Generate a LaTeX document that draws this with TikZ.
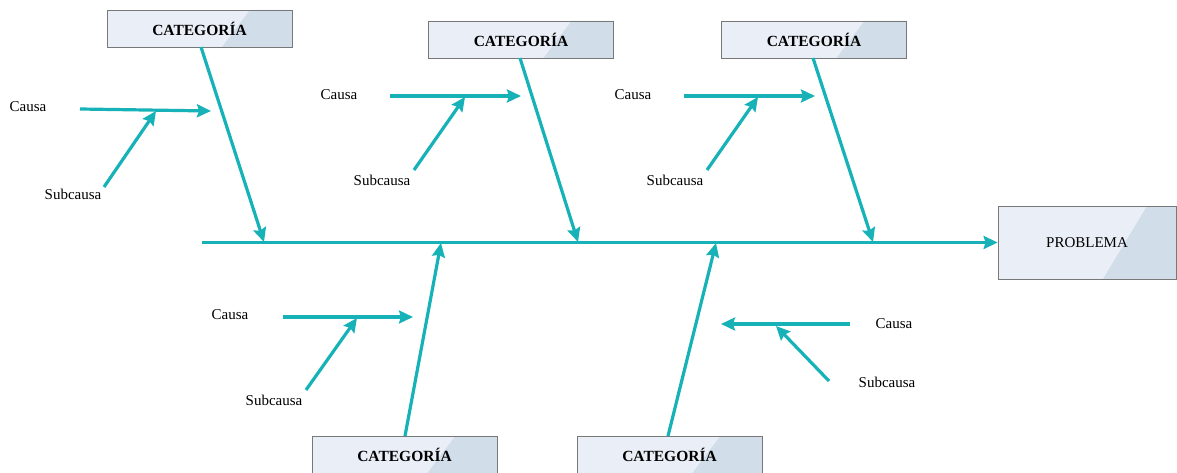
\documentclass[tikz,border=0pt]{standalone}
\usepackage{fontspec}
\setmainfont{Liberation Serif}
\usetikzlibrary{arrows.meta,calc}
\definecolor{bone}{RGB}{22,178,184}
\definecolor{boxlight}{RGB}{234,239,247}
\definecolor{boxdark}{RGB}{209,221,233}
\definecolor{boxline}{RGB}{120,120,120}
\begin{document}
\begin{tikzpicture}[x=1pt,y=-1pt,
  bonearrow/.style={draw=bone,line width=3.2pt,-{Stealth[length=14pt,width=13pt,inset=2pt]}},
  catbox/.style={draw=boxline,line width=0.8pt,fill=boxlight,minimum width=185pt,minimum height=37pt,
    inner sep=0pt,font=\fontsize{15.5}{17}\selectfont\bfseries,
    path picture={\fill[boxdark]
      ($(path picture bounding box.north east)+(-42pt,0)$) -- (path picture bounding box.north east)
      -- (path picture bounding box.south east) -- ($(path picture bounding box.south east)+(-70pt,0)$) -- cycle;}},
  probbox/.style={draw=boxline,line width=0.8pt,fill=boxlight,minimum width=178pt,minimum height=73pt,
    inner sep=0pt,font=\fontsize{15}{17}\selectfont,
    path picture={\fill[boxdark]
      ($(path picture bounding box.north east)+(-29pt,0)$) -- (path picture bounding box.north east)
      -- (path picture bounding box.south east) -- ($(path picture bounding box.south east)+(-73pt,0)$) -- cycle;}},
  lbl/.style={inner sep=0pt,font=\fontsize{15}{17}\selectfont}
]
\useasboundingbox (0,0) rectangle (1177,473);
\clip (0,0) rectangle (1177,473);

% head of the fish and the spine
\node[probbox] (prob) at (1087,242.5) {PROBLEMA};
\coordinate (tail) at (202,242.5);
\draw[bonearrow] (tail) -- (prob.west);

% category boxes
\node[catbox] (c1) at (199.5,28.5) {CATEGORÍA};
\node[catbox] (c2) at (521,39.5) {CATEGORÍA};
\node[catbox] (c3) at (814,39.5) {CATEGORÍA};
\node[catbox] (c4) at (404.5,455) {CATEGORÍA};
\node[catbox] (c5) at (669.5,455) {CATEGORÍA};

% points where the bones meet the spine
\coordinate (j1) at (264,242);
\coordinate (j2) at (578,242);
\coordinate (j3) at (873,242);
\coordinate (j4) at (441,243);
\coordinate (j5) at (716,243);

\draw[bonearrow] (201,47) -- (j1);
\draw[bonearrow] (520,58) -- (j2);
\draw[bonearrow] (813,58) -- (j3);
\draw[bonearrow] (405,436) -- (j4);
\draw[bonearrow] (668,436) -- (j5);

% causes and sub-causes
\node[lbl] (ca1) at (28,107) {Causa};
\node[lbl] (sc1) at (73,194) {Subcausa};
\coordinate (ca1s) at (80,109);  \coordinate (ca1e) at (211,111);
\coordinate (sc1s) at (104,187); \coordinate (sc1e) at (156,111);
\draw[bonearrow] (ca1s) -- (ca1e);
\draw[bonearrow] (sc1s) -- (sc1e);

\node[lbl] (ca2) at (339,95) {Causa};
\node[lbl] (sc2) at (382,180) {Subcausa};
\coordinate (ca2s) at (390,96);  \coordinate (ca2e) at (521,96);
\coordinate (sc2s) at (414,170); \coordinate (sc2e) at (465,97);
\draw[bonearrow] (ca2s) -- (ca2e);
\draw[bonearrow] (sc2s) -- (sc2e);

\node[lbl] (ca3) at (633,95) {Causa};
\node[lbl] (sc3) at (675,180) {Subcausa};
\coordinate (ca3s) at (684,96);  \coordinate (ca3e) at (815,96);
\coordinate (sc3s) at (707,170); \coordinate (sc3e) at (758,97);
\draw[bonearrow] (ca3s) -- (ca3e);
\draw[bonearrow] (sc3s) -- (sc3e);

\node[lbl] (ca4) at (230,315) {Causa};
\node[lbl] (sc4) at (274,400) {Subcausa};
\coordinate (ca4s) at (283,317); \coordinate (ca4e) at (413,317);
\coordinate (sc4s) at (306,390); \coordinate (sc4e) at (357,318);
\draw[bonearrow] (ca4s) -- (ca4e);
\draw[bonearrow] (sc4s) -- (sc4e);

\node[lbl] (ca5) at (894,324) {Causa};
\node[lbl] (sc5) at (887,382) {Subcausa};
\coordinate (ca5s) at (850,324); \coordinate (ca5e) at (721,324);
\coordinate (sc5s) at (829,381); \coordinate (sc5e) at (776,326);
\draw[bonearrow] (ca5s) -- (ca5e);
\draw[bonearrow] (sc5s) -- (sc5e);
\end{tikzpicture}
\end{document}
